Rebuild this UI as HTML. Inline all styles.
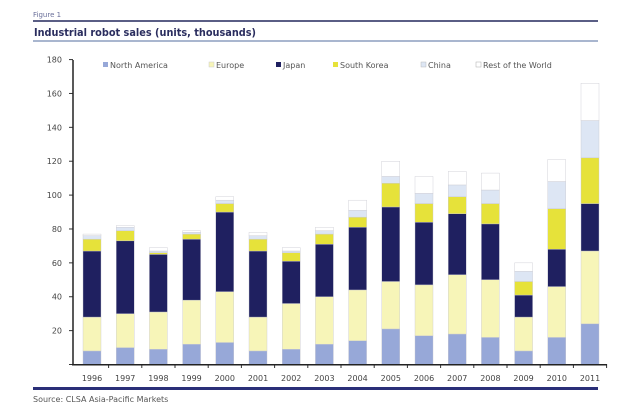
<!DOCTYPE html>
<html><head><meta charset="utf-8"><style>
body{margin:0;background:#fff;width:640px;height:415px;overflow:hidden}
svg{display:block;font-family:"DejaVu Sans","Liberation Sans",sans-serif}
</style></head><body>
<svg id="s" width="640" height="415" xmlns="http://www.w3.org/2000/svg">
<text x="33" y="17" font-size="7" fill="#6a6f9a">Figure 1</text>
<rect x="33" y="20" width="565" height="2" fill="#5a5e85"/>
<text x="34" y="36" font-size="10.5" font-weight="bold" fill="#2a2d5e" textLength="222" lengthAdjust="spacingAndGlyphs">Industrial robot sales (units, thousands)</text>
<rect x="33" y="40" width="565" height="2" fill="#a9b6cf"/>
<rect x="33" y="387" width="565" height="3" fill="#2a2f78"/>
<text x="33" y="402" font-size="8" fill="#555">Source: CLSA Asia-Pacific Markets</text>
<g font-size="8" fill="#555">
<rect x="103" y="62" width="5" height="5" fill="#97a8d8"/><text x="110" y="68">North America</text>
<rect x="209" y="62" width="5" height="5" fill="#f7f5b8" stroke="#ccc" stroke-width=".5"/><text x="216" y="68">Europe</text>
<rect x="276" y="62" width="5" height="5" fill="#1f2060"/><text x="283" y="68">Japan</text>
<rect x="333" y="62" width="5" height="5" fill="#e6e23a"/><text x="340" y="68">South Korea</text>
<rect x="421" y="62" width="5" height="5" fill="#dde6f4" stroke="#bbb" stroke-width=".5"/><text x="428" y="68">China</text>
<rect x="476" y="62" width="5" height="5" fill="#fff" stroke="#aaa" stroke-width=".5"/><text x="483" y="68">Rest of the World</text>
</g>
<g id="g"></g>
</svg>
<script>
var d=[[8,28,67,74,76,77],[10,30,73,79,81,82],[9,31,65,66,67,69],[12,38,74,77,78,79],[13,43,90,95,97,99],[8,28,67,74,76,78],[9,36,61,66,67,69],[12,40,71,77,79,81],[14,44,81,87,91,97],[21,49,93,107,111,120],[17,47,84,95,101,111],[18,53,89,99,106,114],[16,50,83,95,103,113],[8,28,41,49,55,60],[16,46,68,92,108,121],[24,67,95,122,144,166]];
var c=["#97a8d8","#f7f5b8","#1f2060","#e6e23a","#dde6f4","#ffffff"];
var h='',y0=364.5,k=1.694;
for(var v=0;v<=180;v+=20){var y=y0-v*k;h+='<line x1="69" x2="73" y1="'+y+'" y2="'+y+'" stroke="#333"/>';if(v>0)h+='<text x="62" y="'+(y+3)+'" font-size="8" fill="#444" text-anchor="end">'+v+'</text>';}
for(var i=0;i<16;i++){var cx=92+i*33.2,p=0;
for(var j=0;j<6;j++){var t=d[i][j];h+='<rect x="'+(cx-9)+'" y="'+(y0-t*k)+'" width="18" height="'+((t-p)*k)+'" fill="'+c[j]+'" stroke="#c8c8d0" stroke-width=".4"/>';p=t;}
h+='<text x="'+cx+'" y="381" font-size="8" fill="#444" text-anchor="middle">'+(1996+i)+'</text>';
h+='<line x1="'+(cx+16.6)+'" x2="'+(cx+16.6)+'" y1="364" y2="368" stroke="#333"/>';}
h+='<line x1="73" x2="73" y1="60" y2="365" stroke="#222" stroke-width="1.5"/><line x1="72" x2="607" y1="364.8" y2="364.8" stroke="#222" stroke-width="1.5"/>';
document.getElementById('g').innerHTML=h;
</script>
</body></html>
